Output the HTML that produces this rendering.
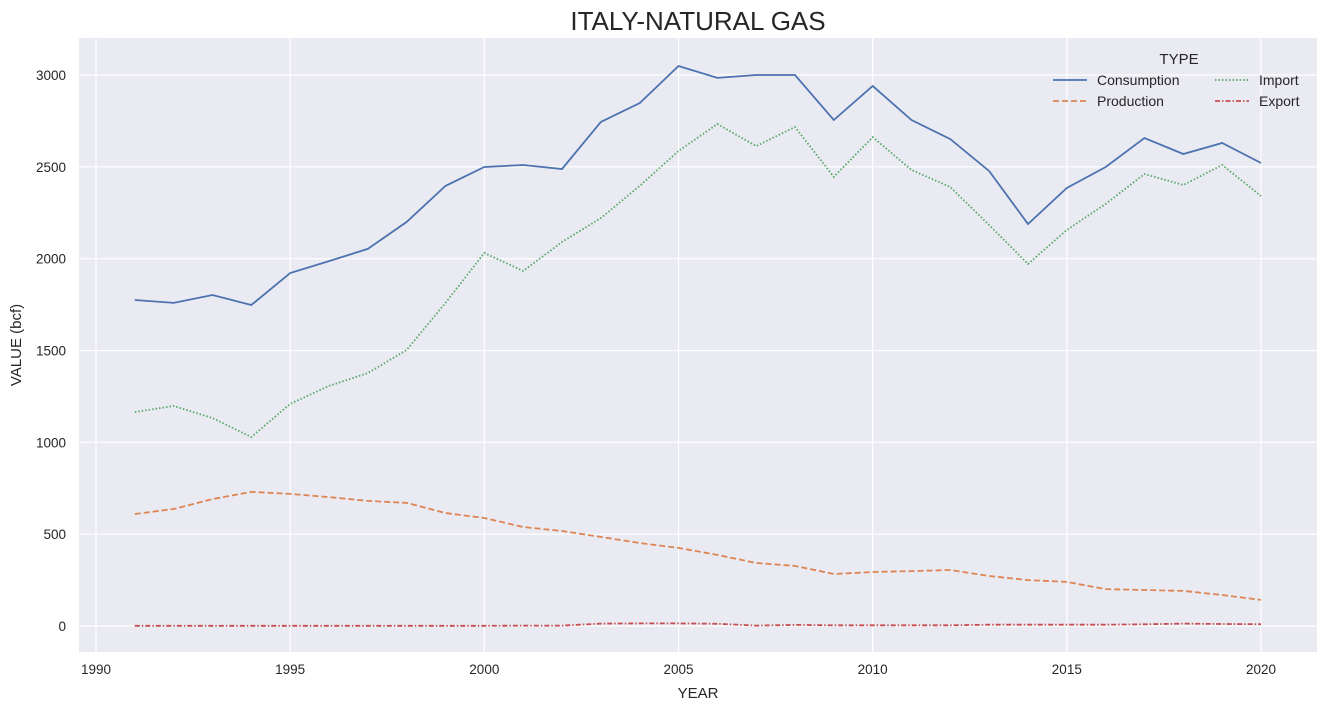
<!DOCTYPE html>
<html><head><meta charset="utf-8"><style>
body{margin:0;background:#fff;font-family:"Liberation Sans",sans-serif;}
svg text{font-family:"Liberation Sans",sans-serif;fill:#262626;}
</style></head><body>
<svg id="chart" width="1327" height="712" xmlns="http://www.w3.org/2000/svg">
<text x="698" y="30" font-size="26" text-anchor="middle">ITALY-NATURAL GAS</text>
<rect x="79" y="38" width="1238" height="614" fill="#eaeaf2"/>
<g id="grid"></g><g id="series"></g><g id="axes"></g>
<text x="698" y="698" font-size="15" text-anchor="middle">YEAR</text>
<text x="21" y="345" font-size="15" text-anchor="middle" transform="rotate(-90 21 345)">VALUE (bcf)</text>
<g id="legend">
<text x="1179" y="64" font-size="15" text-anchor="middle">TYPE</text>
</g>
</svg>
<script>
const years=[1991,1992,1993,1994,1995,1996,1997,1998,1999,2000,2001,2002,2003,2004,2005,2006,2007,2008,2009,2010,2011,2012,2013,2014,2015,2016,2017,2018,2019,2020];
const consumption=[1775,1759,1802,1748,1922,1987,2053,2200,2396,2499,2510,2488,2744,2847,3049,2984,3000,3000,2755,2940,2755,2651,2477,2189,2385,2499,2657,2570,2630,2521];
const production=[610,637,691,730,719,702,681,670,615,588,539,517,485,452,425,387,343,327,283,294,299,305,272,250,240,201,196,191,169,142];
const imports=[1165,1198,1132,1029,1209,1307,1377,1503,1759,2031,1933,2091,2221,2396,2586,2733,2613,2717,2445,2662,2483,2390,2183,1971,2156,2298,2461,2401,2510,2341];
const exports=[1,1,1,1,1,1,1,1,1,1,2,2,13,14,14,12,2,6,4,4,4,4,7,7,7,7,9,13,11,10];
const xTicks=[1990,1995,2000,2005,2010,2015,2020];
const yTicks=[0,500,1000,1500,2000,2500,3000];
const X=v=>96+(v-1990)*(1165/30);
const Y=v=>626-v*(551/3000);
const NS="http://www.w3.org/2000/svg";
function mk(tag,attrs,parent){const e=document.createElementNS(NS,tag);for(const k in attrs)e.setAttribute(k,attrs[k]);parent.appendChild(e);return e;}
const grid=document.getElementById('grid'),axes=document.getElementById('axes'),ser=document.getElementById('series'),leg=document.getElementById('legend');
xTicks.forEach(t=>{
 const l=mk('line',{x1:X(t),x2:X(t),y1:38,y2:652,stroke:'#fff','stroke-width':1.2},grid);
 
 
 const tx=mk('text',{x:X(t),y:674,'font-size':13.5,'text-anchor':'middle'},axes);tx.textContent=t;
 
 
});
yTicks.forEach(t=>{
 const l=mk('line',{x1:79,x2:1317,y1:Y(t),y2:Y(t),stroke:'#fff','stroke-width':1.2},grid);
 
 
 const tx=mk('text',{x:66,y:Y(t)+5,'font-size':13.5,'text-anchor':'end'},axes);tx.textContent=t;
 
 
});
const series=[
 {name:'consumption',label:'Consumption',data:consumption,color:'#4c72b0',dash:'none',lx:1053,ly:80},
 {name:'production',label:'Production',data:production,color:'#dd8452',dash:'6,3',lx:1053,ly:101},
 {name:'import',label:'Import',data:imports,color:'#55a868',dash:'1.5,2',lx:1215,ly:80},
 {name:'export',label:'Export',data:exports,color:'#c44e52',dash:'5,2,1.5,2',lx:1215,ly:101}
];
series.forEach(s=>{
 const d=s.data.map((v,i)=>(i?'L':'M')+X(years[i]).toFixed(1)+','+Y(v).toFixed(1)).join('');
 const p=mk('path',{d:d,fill:'none',stroke:s.color,'stroke-width':1.8,'stroke-dasharray':s.dash},ser);
 
 
 const ll=mk('line',{x1:s.lx,x2:s.lx+34,y1:s.ly,y2:s.ly,stroke:s.color,'stroke-width':1.8,'stroke-dasharray':s.dash},leg);
 
 
 const t=mk('text',{x:s.lx+44,y:s.ly+5,'font-size':14},leg);t.textContent=s.label;
 
 
});
</script>
</body></html>
